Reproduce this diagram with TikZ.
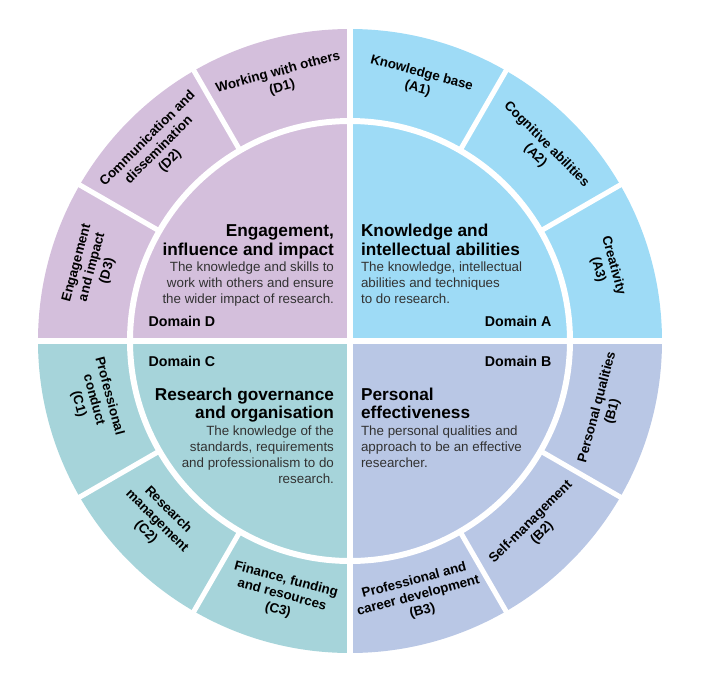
\documentclass[tikz,border=0pt]{standalone}
\usepackage{fontspec}
\setmainfont{Liberation Sans}
\definecolor{domainA}{RGB}{158,219,246}
\definecolor{domainB}{RGB}{185,199,229}
\definecolor{domainC}{RGB}{166,212,218}
\definecolor{domainD}{RGB}{212,191,220}
\definecolor{descgray}{RGB}{50,50,50}
\tikzset{
  skill/.style={font=\fontsize{7.6}{9}\selectfont\bfseries, align=center, inner sep=0pt},
  domtitle/.style={font=\fontsize{9.8}{10.4}\selectfont\bfseries, inner sep=0pt},
  domdesc/.style={font=\fontsize{7.6}{9.1}\selectfont, text=descgray, inner sep=0pt},
  domname/.style={font=\fontsize{8.1}{9}\selectfont\bfseries, inner sep=0pt},
  gap/.style={white, line width=2.9pt}
}

\begin{document}
\begin{tikzpicture}[x=0.02cm,y=0.02cm] % 1 unit = 1 px of the wheel
   \newcommand{\outR}{312}
   \useasboundingbox (-350,-340) rectangle (354,341);
   \fill[domainA] (0,0) -- (0:\outR) arc[start angle=0,end angle=90,radius=\outR] -- cycle;
   \fill[domainD] (0,0) -- (90:\outR) arc[start angle=90,end angle=180,radius=\outR] -- cycle;
   \fill[domainC] (0,0) -- (180:\outR) arc[start angle=180,end angle=270,radius=\outR] -- cycle;
   \fill[domainB] (0,0) -- (270:\outR) arc[start angle=270,end angle=360,radius=\outR] -- cycle;
   \draw[gap, line width=3.4pt] (0,0) circle[radius=220];
   \foreach \a in {30,60,120,150,210,240,300,330}
     \draw[gap] (\a:220) -- (\a:320);
   \draw[gap] (-320,0) -- (320,0);
   \draw[gap] (0,-320) -- (0,320);
   % domain A
   \node[domtitle, anchor=base west, align=left] (titleA) at (10.7,86) {Knowledge and\\intellectual abilities};
   \node[domdesc, anchor=base west, align=left] (descA) at (10.7,37.7) {The knowledge, intellectual\\abilities and techniques\\to do research.};
   \node[domname, anchor=base east] (nameA) at (201.7,15) {Domain A};
   % domain D
   \node[domtitle, anchor=base east, align=right] (titleD) at (-15.7,86) {Engagement,\\influence and impact};
   \node[domdesc, anchor=base east, align=right] (descD) at (-15.7,37.7) {The knowledge and skills to\\work with others and ensure\\the wider impact of research.};
   \node[domname, anchor=base west] (nameD) at (-201.7,15) {Domain D};
   % domain C
   \node[domname, anchor=base west] (nameC) at (-201.7,-25.7) {Domain C};
   \node[domtitle, anchor=base east, align=right] (titleC) at (-15.7,-77.3) {Research governance\\and organisation};
   \node[domdesc, anchor=base east, align=right] (descC) at (-15.7,-142.3) {The knowledge of the\\standards, requirements\\and professionalism to do\\research.};
   % domain B
   \node[domname, anchor=base east] (nameB) at (201.7,-25.7) {Domain B};
   \node[domtitle, anchor=base west, align=left] (titleB) at (10.7,-77.3) {Personal\\effectiveness};
   \node[domdesc, anchor=base west, align=left] (descB) at (10.7,-126.7) {The personal qualities and\\approach to be an effective\\researcher.};
   % outer ring
   \node[skill, rotate=-15] (a1) at (75:269) {Knowledge base\\(A1)};
   \node[skill, rotate=-45] (a2) at (45:270) {Cognitive abilities\\(A2)};
   \node[skill, rotate=-75] (a3) at (16:266) {Creativity\\(A3)};
   \node[skill, rotate=75] (b1) at (345:264) {Personal qualities\\(B1)};
   \node[skill, rotate=45] (b2) at (315:264) {Self-management\\(B2)};
   \node[skill, rotate=15] (b3) at (285:264) {Professional and\\career development\\(B3)};
   \node[skill, rotate=-15] (c3) at (255:263) {Finance, funding\\and resources\\(C3)};
   \node[skill, rotate=-45] (c2) at (223:264) {Research\\management\\(C2)};
   \node[skill, rotate=-75] (c1) at (193:263) {Professional\\conduct\\(C1)};
   \node[skill, rotate=75] (d3) at (164:268) {Engagement\\and impact\\(D3)};
   \node[skill, rotate=45] (d2) at (135:270) {Communication and\\dissemination\\(D2)};
   \node[skill, rotate=15] (d1) at (105:270) {Working with others\\(D1)};
\end{tikzpicture}
\end{document}
